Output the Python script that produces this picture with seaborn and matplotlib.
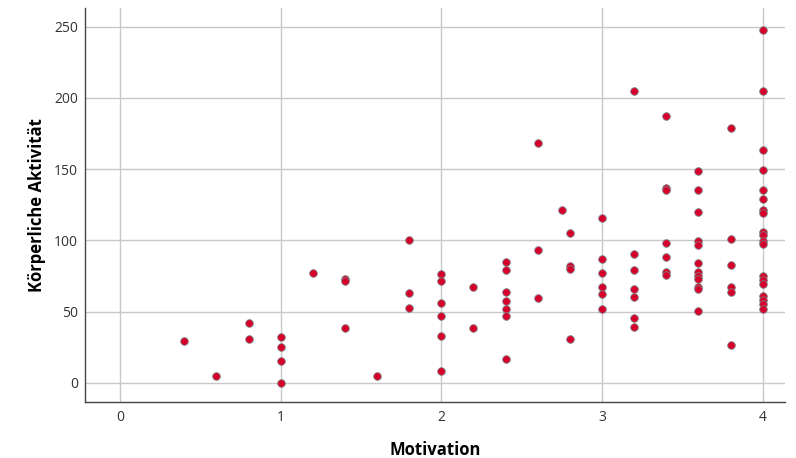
import matplotlib
matplotlib.use("Agg")
import matplotlib.pyplot as plt
import seaborn as sns
import pandas as pd

motivation_levels = [0.4, 0.6, 0.8, 1.0, 1.2, 1.4, 1.6, 1.8, 2.0, 2.2, 2.4, 2.6, 2.75, 2.8,
                     3.0, 3.2, 3.4, 3.6, 3.8, 4.0]
activity_by_level = [
    [29.5],
    [5],
    [42, 31],
    [32, 25, 15, 0],
    [77],
    [73, 71.5, 38.5],
    [5],
    [100.5, 63, 52.5],
    [76.5, 71.5, 56, 47, 33, 8.5],
    [67, 38.5],
    [85, 79, 63.5, 57.5, 51.5, 47, 16.5],
    [168, 93, 59.5],
    [121.5],
    [105, 82, 80, 31],
    [116, 87, 77, 67.5, 62.5, 52],
    [204.5, 90.5, 79, 65.5, 60.5, 45.5, 39],
    [187, 137, 135.5, 98, 88.5, 78, 75.5],
    [148.5, 135, 120, 99.5, 96.5, 84, 78, 75, 72.5, 67.5, 66, 50.5],
    [179, 101, 82.5, 67.5, 63.5, 26.5],
    [247.5, 204.5, 163.5, 149.5, 135, 129, 121.5, 119.5, 106, 103.5, 99.5, 97.5,
     75, 72, 69.5, 61, 58, 55, 52],
]
x_ticks = [0, 1, 2, 3, 4]
y_ticks = [0, 50, 100, 150, 200, 250]

rows = []
for m, vals in zip(motivation_levels, activity_by_level):
    for v in vals:
        rows.append({"Motivation": m, "Körperliche Aktivität": v})
df = pd.DataFrame(rows)

sns.set_style("white")
plt.rcParams["font.family"] = ["Open Sans", "DejaVu Sans"]

fig = plt.figure(figsize=(7.96, 4.58), dpi=100)
ax = fig.add_axes([0.1068, 0.1223, 0.879, 0.860])

ax.set_axisbelow(True)
ax.grid(True, color="#c8c8c8", linewidth=1.0)

sns.scatterplot(data=df, x="Motivation", y="Körperliche Aktivität", ax=ax,
                color="#d7002b", edgecolor="#7f7f7f", linewidth=0.6, s=30, zorder=3)

ax.set_xlim(-0.218, 4.137)
ax.set_ylim(-13.5, 263)
ax.set_xticks(x_ticks)
ax.set_yticks(y_ticks)
ax.tick_params(axis="x", length=0, labelsize=10, colors="#333333", pad=6)
ax.tick_params(axis="y", length=0, labelsize=10, colors="#333333", pad=5)

for side in ["top", "right"]:
    ax.spines[side].set_visible(False)
for side in ["left", "bottom"]:
    ax.spines[side].set_color("#444444")
    ax.spines[side].set_linewidth(1.0)

ax.set_xlabel("Motivation", fontsize=12, fontweight="bold", color="black", labelpad=11)
ax.set_ylabel("Körperliche Aktivität", fontsize=12, fontweight="bold", color="black", labelpad=6)

fig.savefig("out.png", dpi=100)
